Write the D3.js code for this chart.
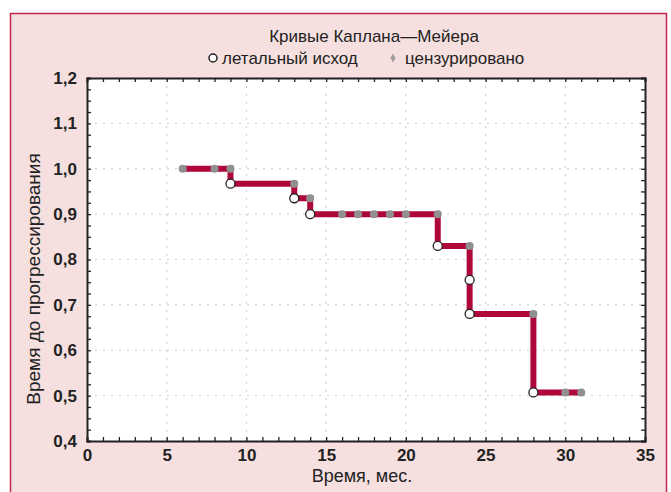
<!DOCTYPE html>
<html>
<head>
<meta charset="utf-8">
<script src="https://d3js.org/d3.v7.min.js"></script>
<style>
  body { margin:0; background:#fff; font-family:"Liberation Sans", Arial, sans-serif; }
</style>
</head>
<body>
<div id="chart"></div>
<script>
// step curve (time, survival) in drawing order
var stepTimes  = [6, 9, 9, 13, 13, 14, 14, 22, 22, 24, 24, 28, 28, 31];
var stepValues = [1.0, 1.0, 0.967, 0.967, 0.935, 0.935, 0.9, 0.9, 0.83, 0.83, 0.68, 0.68, 0.507, 0.507];
// events (white circles)
var eventTimes  = [9, 13, 14, 22, 24, 24, 28];
var eventValues = [0.967, 0.935, 0.9, 0.83, 0.755, 0.68, 0.507];
// censored (grey dots)
var censTimes  = [6, 8, 9, 13, 14, 16, 17, 18, 19, 20, 22, 24, 28, 30, 31];
var censValues = [1.0, 1.0, 1.0, 0.967, 0.935, 0.9, 0.9, 0.9, 0.9, 0.9, 0.9, 0.83, 0.68, 0.507, 0.507];
var xTicks = [0, 5, 10, 15, 20, 25, 30, 35];
var yTicks = [0.4, 0.5, 0.6, 0.7, 0.8, 0.9, 1.0, 1.1, 1.2];

(function () {
var W = 671, H = 492;
var svg = d3.select("#chart").append("svg").attr("width", W).attr("height", H);

svg.append("rect").attr("x", 10.5).attr("y", 13.5).attr("width", 656).attr("height", 490)
  .attr("fill", "#f6e0df").attr("stroke", "#c0264f").attr("stroke-width", 1.5);

var pl = 87, pr = 645, pt = 78, pb = 441;
var x = d3.scaleLinear().domain([0, 35]).range([pl, pr]);
var y = d3.scaleLinear().domain([0.4, 1.2]).range([pb, pt]);

svg.append("rect").attr("x", pl).attr("y", pt).attr("width", pr - pl).attr("height", pb - pt)
  .attr("fill", "#fff");

// grid
var g = svg.append("g");
g.selectAll(".gx").data(xTicks.slice(1, -1)).enter().append("line")
  .attr("x1", function(d){ return x(d); }).attr("x2", function(d){ return x(d); })
  .attr("y1", pt).attr("y2", pb)
  .attr("stroke", "#c8c8c8").attr("stroke-width", 1).attr("stroke-dasharray", "2,6");
g.selectAll(".gy").data(yTicks.slice(1, -1)).enter().append("line")
  .attr("y1", function(d){ return y(d); }).attr("y2", function(d){ return y(d); })
  .attr("x1", pl).attr("x2", pr)
  .attr("stroke", "#c8c8c8").attr("stroke-width", 1).attr("stroke-dasharray", "2,6");

// axes with inward ticks on all sides
var xMinor = d3.range(0, 36, 1);
var yMinor = d3.range(0, 33).map(function(i){ return 0.4 + i * 0.025; });
function fmt(d){ return d3.format(".1f")(d).replace(".", ","); }

svg.append("g").attr("transform", "translate(0," + pb + ")")
  .call(d3.axisTop(x).tickValues(xMinor).tickSize(4).tickFormat(""));
svg.append("g").attr("transform", "translate(0," + pt + ")")
  .call(d3.axisBottom(x).tickValues(xMinor).tickSize(4).tickFormat(""));
svg.append("g").attr("transform", "translate(" + pl + ",0)")
  .call(d3.axisRight(y).tickValues(yMinor).tickSize(4).tickFormat(""));
svg.append("g").attr("transform", "translate(" + pr + ",0)")
  .call(d3.axisLeft(y).tickValues(yMinor).tickSize(4).tickFormat(""));
svg.selectAll(".domain").attr("stroke", "#222").attr("stroke-width", 2);
svg.selectAll(".tick line").attr("stroke", "#222").attr("stroke-width", 1.3);

// tick labels
var xl = svg.append("g").attr("transform", "translate(0," + pb + ")")
  .call(d3.axisBottom(x).tickValues(xTicks).tickSize(0).tickPadding(8));
xl.select(".domain").remove();
xl.selectAll("text").attr("font-size", 17).attr("font-weight", "bold").attr("fill", "#222")
  .attr("font-family", "Liberation Sans, Arial, sans-serif");
var yl = svg.append("g").attr("transform", "translate(" + pl + ",0)")
  .call(d3.axisLeft(y).tickValues(yTicks).tickSize(0).tickPadding(10).tickFormat(fmt));
yl.select(".domain").remove();
yl.selectAll("text").attr("font-size", 17).attr("font-weight", "bold").attr("fill", "#222")
  .attr("font-family", "Liberation Sans, Arial, sans-serif");

// step line
var pts = stepTimes.map(function(t, i){ return [x(t), y(stepValues[i])]; });
svg.append("path").attr("d", d3.line()(pts)).attr("fill", "none")
  .attr("stroke", "#b0073a").attr("stroke-width", 6).attr("stroke-linejoin", "miter");

// censored
svg.selectAll(".cens").data(censTimes).enter().append("circle")
  .attr("cx", function(d){ return x(d); })
  .attr("cy", function(d, i){ return y(censValues[i]); })
  .attr("r", 4).attr("fill", "#909090");

// events
svg.selectAll(".ev").data(eventTimes).enter().append("circle")
  .attr("cx", function(d){ return x(d); })
  .attr("cy", function(d, i){ return y(eventValues[i]); })
  .attr("r", 4.5).attr("fill", "#fff").attr("stroke", "#222").attr("stroke-width", 1.3);

// titles
svg.append("text").attr("x", 374).attr("y", 42).attr("text-anchor", "middle")
  .attr("font-size", 17).attr("fill", "#222").text("Кривые Каплана—Мейера");
svg.append("circle").attr("cx", 213).attr("cy", 58).attr("r", 4)
  .attr("fill", "#fff").attr("stroke", "#222").attr("stroke-width", 1.5);
svg.append("text").attr("x", 222).attr("y", 64).attr("font-size", 17)
  .attr("fill", "#222").text("летальный исход");
svg.append("path").attr("d", d3.symbol().type(d3.symbolDiamond).size(24)())
  .attr("transform", "translate(393,58)").attr("fill", "#a0a0a0");
svg.append("text").attr("x", 405).attr("y", 64).attr("font-size", 17)
  .attr("fill", "#222").text("цензурировано");
svg.append("text").attr("x", 362).attr("y", 482).attr("text-anchor", "middle")
  .attr("font-size", 18).attr("fill", "#222").text("Время, мес.");
svg.append("text").attr("transform", "translate(40,279) rotate(-90)").attr("text-anchor", "middle")
  .attr("font-size", 19).attr("fill", "#222").text("Время до прогрессирования");
})();
</script>
</body>
</html>
